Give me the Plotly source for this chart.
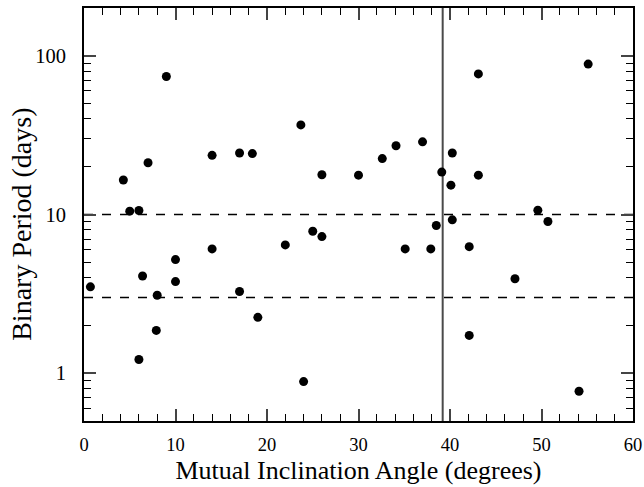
import plotly.graph_objects as go

# Data
incl = [0.7, 4.3, 5.0, 6.0, 6.0, 6.4, 7.0, 8.0, 7.9, 9.0, 10.0, 10.0, 14.0, 14.0,
        17.0, 17.0, 18.4, 19.0, 22.0, 23.7, 24.0, 25.0, 26.0, 26.0, 30.0, 32.6,
        34.1, 35.1, 37.0, 37.9, 38.5, 39.1, 40.1, 40.25, 40.25, 42.1, 42.1, 43.1,
        43.1, 47.1, 49.6, 50.7, 54.1, 55.1]
period = [3.5, 16.5, 10.5, 10.6, 1.22, 4.1, 21.2, 3.1, 1.86, 74, 5.2, 3.78, 23.6, 6.07,
          24.4, 3.27, 24.2, 2.25, 6.43, 36.7, 0.886, 7.84, 17.8, 7.26, 17.7, 22.5,
          27.1, 6.07, 28.7, 6.07, 8.52, 18.5, 15.3, 24.4, 9.25, 6.27, 1.73, 76.9,
          17.7, 3.94, 10.65, 9.03, 0.77, 88.6]

x_range = [0, 60]
y_range = [0.5, 200]
dashed_periods = [10, 3]
kozai_angle = 39.2
x_ticks = [0, 10, 20, 30, 40, 50, 60]
y_ticks = [1, 10, 100]
y_minor = [m * 10 ** e for e in (-1, 0, 1, 2) for m in range(2, 10)]

fig = go.Figure()

for p in dashed_periods:
    fig.add_trace(go.Scatter(x=x_range, y=[p, p], mode="lines",
                             line=dict(color="black", width=1.5, dash="dash"),
                             showlegend=False, hoverinfo="skip"))

fig.add_trace(go.Scatter(x=[kozai_angle, kozai_angle], y=y_range, mode="lines",
                         line=dict(color="#4a4a4a", width=2),
                         showlegend=False, hoverinfo="skip"))

fig.add_trace(go.Scatter(x=incl, y=period, mode="markers",
                         marker=dict(color="black", size=9),
                         showlegend=False))

font_family = "Liberation Serif"
fig.update_layout(
    width=644, height=487,
    margin=dict(l=84, r=11, t=8, b=66, autoexpand=False),
    paper_bgcolor="white", plot_bgcolor="white",
    font=dict(family=font_family, color="black", size=19),
    annotations=[dict(text="Binary Period (days)", textangle=-90,
                      xref="paper", yref="paper", x=-0.114, y=0.476,
                      xanchor="center", yanchor="middle", showarrow=False,
                      font=dict(size=28, family=font_family))],
)
fig.update_xaxes(
    range=x_range, tickvals=x_ticks, ticks="inside", ticklen=12, tickwidth=1.5,
    showline=True, linecolor="black", linewidth=2, mirror="ticks",
    showgrid=False, zeroline=False, tickfont=dict(size=18.5), automargin=False,
    ticklabelstandoff=6,
    minor=dict(ticks="inside", dtick=2, ticklen=7, tickwidth=1.2, tickcolor="black"),
    title=dict(text="Mutual Inclination Angle (degrees)", font=dict(size=26), standoff=7),
)
fig.update_yaxes(
    type="log", range=[-0.30103, 2.30103], tickvals=y_ticks,
    ticktext=[str(v) for v in y_ticks], ticks="inside", ticklen=12, tickwidth=1.5,
    showline=True, linecolor="black", linewidth=2, mirror="ticks",
    showgrid=False, zeroline=False, tickfont=dict(size=20.5), automargin=False,
    ticklabelstandoff=12,
    minor=dict(ticks="inside", tickvals=y_minor, ticklen=7, tickwidth=1.2, tickcolor="black"),
)

fig.write_html(
    "out.html",
    config={"displayModeBar": False},
    post_script="document.body.style.margin='0';document.body.style.overflow='hidden';",
)
